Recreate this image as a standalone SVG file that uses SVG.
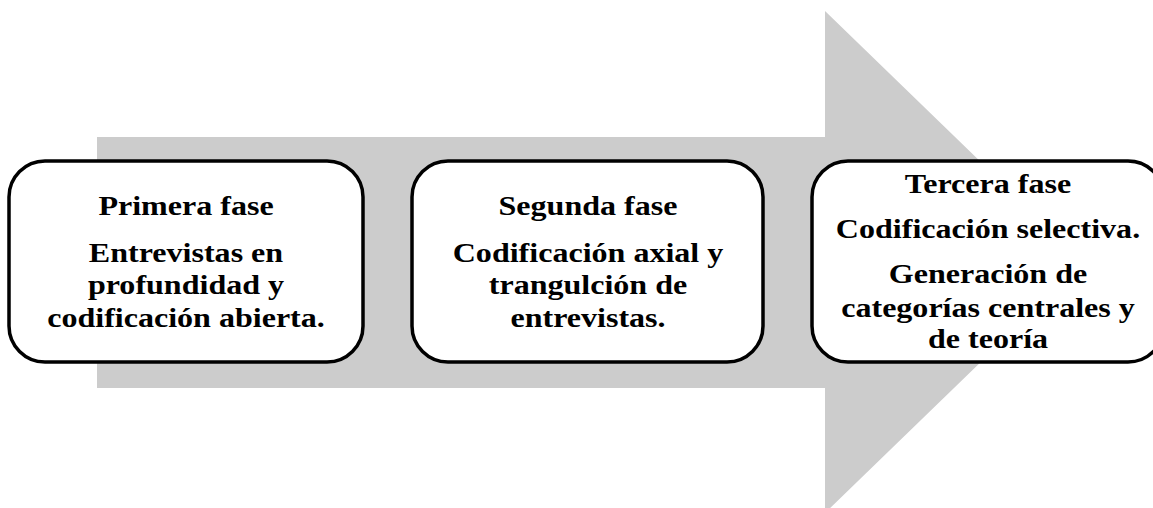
<svg xmlns="http://www.w3.org/2000/svg" width="1153" height="508" viewBox="0 0 1153 508">
<style>
.box{fill:#ffffff;stroke:#000000;stroke-width:3.5}
.t{font-family:"Liberation Serif","Times New Roman",serif;font-weight:bold;font-size:28px;fill:#000000;text-anchor:middle}
</style>
<rect width="1153" height="508" fill="#ffffff"/>
<g id="arrow">
<polygon points="97,137 825,137 825,11 1084,262 825,513 825,388 97,388" fill="#cccccc"/>
</g>
<g id="connectors"></g>
<g id="fase1">
<rect class="box" x="9" y="161" width="354" height="201" rx="36" ry="36"/>
<g transform="translate(186,0) scale(1.145,1)">
<text class="t" x="0" y="215">Primera fase</text>
<text class="t" x="0" y="262">Entrevistas en</text>
<text class="t" x="0" y="294">profundidad y</text>
<text class="t" x="0" y="327">codificación abierta.</text>
</g>
</g>
<g id="fase2">
<rect class="box" x="412" y="161" width="351" height="201" rx="36" ry="36"/>
<g transform="translate(588,0) scale(1.145,1)">
<text class="t" x="0" y="215">Segunda fase</text>
<text class="t" x="0" y="262">Codificación axial y</text>
<text class="t" x="0" y="294">trangulción de</text>
<text class="t" x="0" y="327">entrevistas.</text>
</g>
</g>
<g id="fase3">
<rect class="box" x="812" y="161" width="352" height="201" rx="36" ry="36"/>
<g transform="translate(988,0) scale(1.145,1)">
<text class="t" x="0" y="193">Tercera fase</text>
<text class="t" x="0" y="238">Codificación selectiva.</text>
<text class="t" x="0" y="283">Generación de</text>
<text class="t" x="0" y="317">categorías centrales y</text>
<text class="t" x="0" y="348">de teoría</text>
</g>
</g>
</svg>
